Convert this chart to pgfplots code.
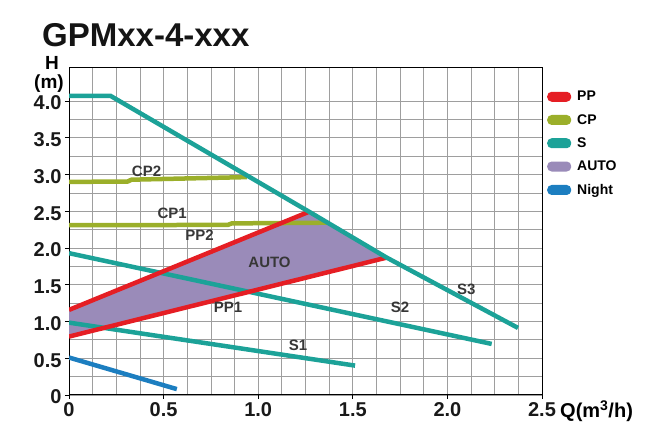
\documentclass[border=0pt]{standalone}
\usepackage{pgfplots}
\pgfplotsset{compat=1.18}
\usepackage{fontspec}
\setmainfont{Liberation Sans}
\usetikzlibrary{calc}

\definecolor{ppred}{RGB}{229,30,36}
\definecolor{cpgreen}{RGB}{155,175,42}
\definecolor{steal}{RGB}{28,162,152}
\definecolor{autopurple}{RGB}{154,139,185}
\definecolor{nightblue}{RGB}{28,126,192}
\definecolor{labelgray}{RGB}{55,55,55}

\newcommand{\curvelabel}{\fontsize{15}{15}\selectfont\bfseries\color{labelgray}}

\begin{document}
\begin{tikzpicture}
\begin{axis}[
  name=ax, at={(0,0)}, anchor=south west,
  scale only axis, width=473pt, height=327pt,
  xmin=0, xmax=2.5, ymin=0, ymax=4.45,
  xtick={0,0.5,1,1.5,2,2.5}, xticklabels={0,0.5,1.0,1.5,2.0,2.5},
  ytick={0,0.5,1,1.5,2,2.5,3,3.5,4},
  yticklabels={0,0.5,1.0,1.5,2.0,2.5,3.0,3.5,4.0},
  minor x tick num=3, minor y tick num=1,
  grid=both,
  major grid style={draw=black!38, line width=0.8pt},
  minor grid style={draw=black!38, line width=0.8pt},
  axis line style={black, line width=1pt},
  tick pos=left, tick align=outside,
  major tick length=4pt, minor tick length=0pt,
  tick style={black, line width=0.8pt},
  ticklabel style={font=\fontsize{20}{20}\selectfont\bfseries, text=black!90},
  yticklabel style={yshift=-2pt},
  legend style={at={(1,1)}, anchor=north west, xshift=3pt, yshift=-19pt,
    draw=none, fill=none, font=\fontsize{14}{14}\selectfont\bfseries,
    row sep=8pt, inner xsep=2pt},
  legend cell align=left,
  legend image code/.code={%
    \fill[#1, rounded corners=4.5pt] (0pt,-5pt) rectangle (24pt,5pt);
    \path (28pt,0pt);},
]
% legend swatches
\addlegendimage{fill=ppred, draw=none}
\addlegendimage{fill=cpgreen, draw=none}
\addlegendimage{fill=steal, draw=none}
\addlegendimage{fill=autopurple, draw=none}
\addlegendimage{fill=nightblue, draw=none}
\legend{PP,CP,S,AUTO,Night}

% AUTO region between PP1 and PP2, closed along S3
\addplot[fill=autopurple, draw=none, forget plot] coordinates
  {(0,1.158) (1.265,2.49) (1.679,1.87) (0,0.795)} -- cycle;

% S1, S2
\addplot[steal, line width=4.5pt, forget plot] coordinates {(0,0.985) (1.512,0.40)};
\addplot[steal, line width=4.5pt, forget plot] coordinates {(0,1.93) (2.234,0.695)};

% CP1, CP2
\addplot[cpgreen, line width=4.5pt, forget plot] coordinates
  {(0,2.31) (0.84,2.315) (0.86,2.335) (1.37,2.345)};
\addplot[cpgreen, line width=4.5pt, forget plot] coordinates
  {(0,2.90) (0.31,2.905) (0.33,2.93) (0.94,2.965)};

% PP1, PP2
\addplot[ppred, line width=4.5pt, forget plot] coordinates {(0,0.795) (1.679,1.87)};
\addplot[ppred, line width=4.5pt, forget plot] coordinates {(0,1.158) (1.265,2.49)};

% S3
\addplot[steal, line width=4.5pt, forget plot] coordinates
  {(0,4.07) (0.22,4.07) (1.265,2.50) (1.679,1.87) (2.373,0.913)};

% Night
\addplot[nightblue, line width=4.5pt, forget plot] coordinates {(0,0.51) (0.57,0.08)};

% curve names
\node[font=\curvelabel] at (axis cs:0.41,3.04) {CP2};
\node[font=\curvelabel] at (axis cs:0.545,2.47) {CP1};
\node[font=\curvelabel] at (axis cs:0.69,2.17) {PP2};
\node[font=\curvelabel] at (axis cs:1.06,1.81) {AUTO};
\node[font=\curvelabel] at (axis cs:0.84,1.19) {PP1};
\node[font=\curvelabel] at (axis cs:1.21,0.68) {S1};
\node[font=\curvelabel] at (axis cs:1.75,1.19) {S2};
\node[font=\curvelabel] at (axis cs:2.10,1.44) {S3};
\end{axis}

% title and axis names
\node[anchor=base west, font=\fontsize{33}{33}\selectfont\bfseries, text=black!92, inner sep=0pt]
  at ($(ax.north west)+(-27pt,21pt)$) {GPMxx-4-xxx};
\node[anchor=base, font=\fontsize{19}{19}\selectfont\bfseries, inner sep=0pt]
  at ($(ax.north west)+(-17pt,-2pt)$) {H};
\node[anchor=base, font=\fontsize{19}{19}\selectfont\bfseries, inner sep=0pt]
  at ($(ax.north west)+(-20pt,-21pt)$) {(m)};
\node[anchor=west, font=\fontsize{20}{20}\selectfont\bfseries, inner sep=0pt]
  at ($(ax.south east)+(18pt,-16pt)$) {Q(m\textsuperscript{3}/h)};

\pgfresetboundingbox
\path[use as bounding box] ($(ax.south west)+(-69pt,-40pt)$) rectangle ++(652pt,435pt);
\end{tikzpicture}
\end{document}
